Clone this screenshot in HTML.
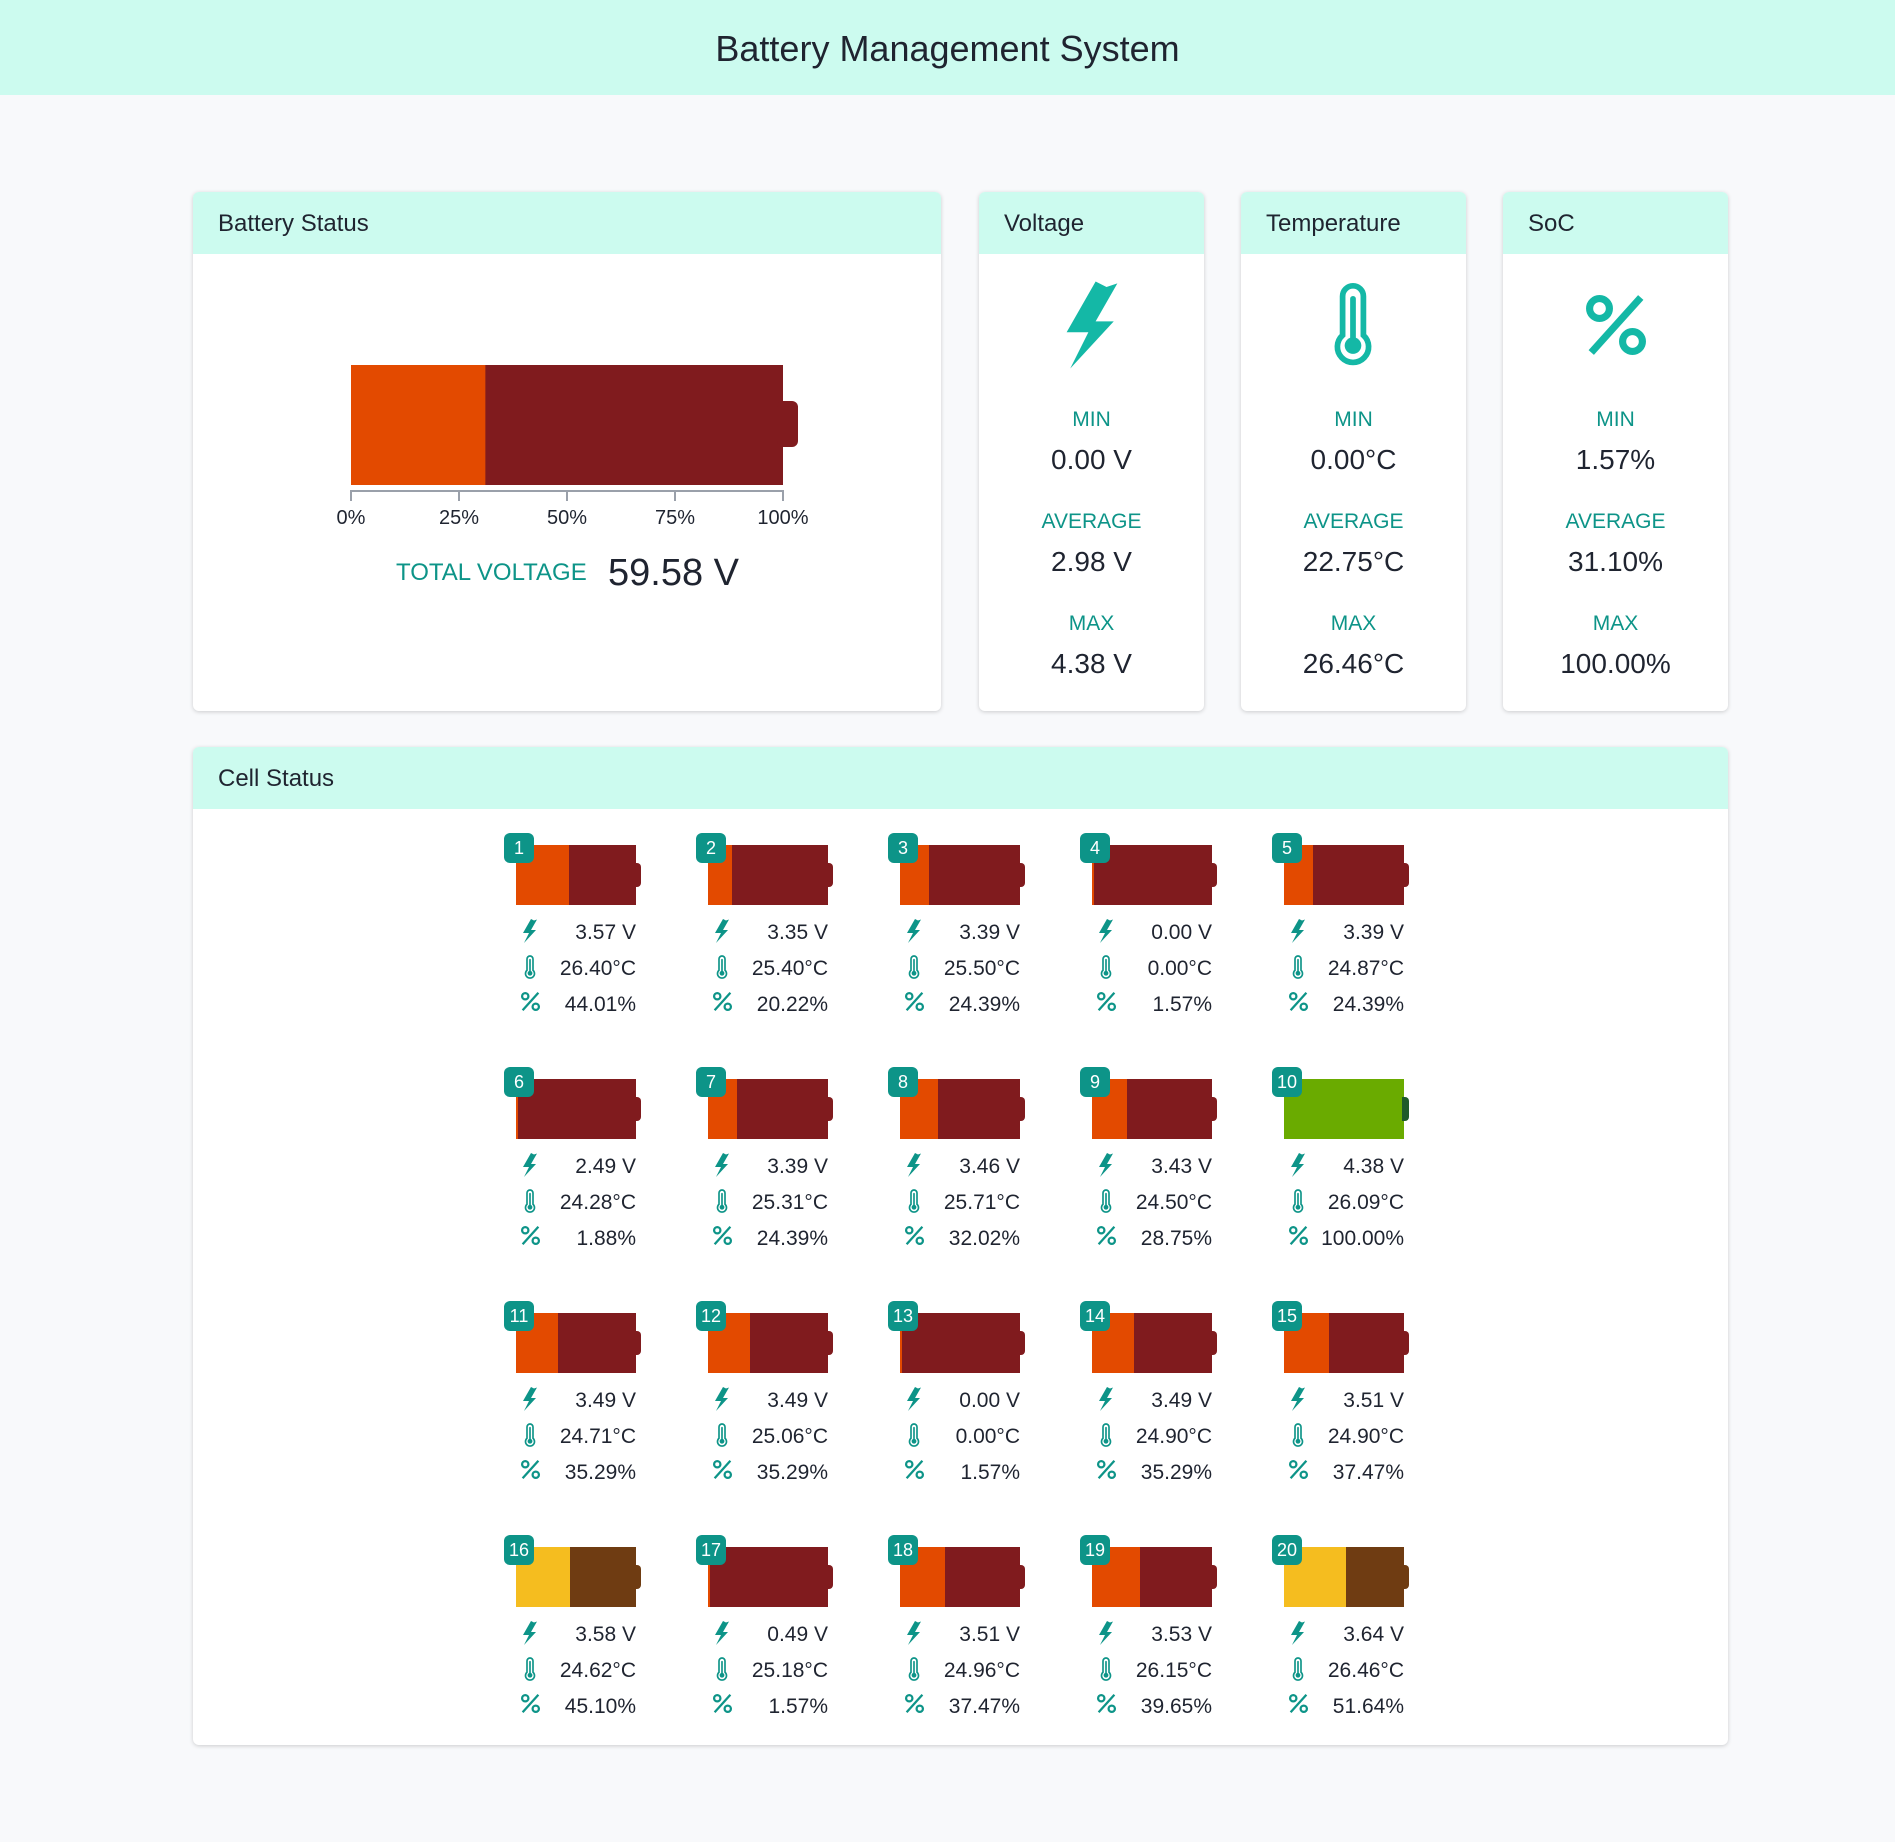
<!DOCTYPE html>
<html><head><meta charset="utf-8">
<style>
body{margin:0;width:1895px;height:1842px;background:#f8f9fb;font-family:"Liberation Sans",sans-serif;position:relative;overflow:hidden;color:#1f2430}
.abs{position:absolute}
.hdr{left:0;top:0;width:1895px;height:95px;background:#ccfbef;text-align:center;line-height:98px;font-size:36px;color:#1f2430}
.card{background:#fff;border-radius:6px;box-shadow:0 1px 4px rgba(0,0,0,.18);overflow:hidden}
.ch{position:absolute;left:0;top:0;right:0;height:62px;background:#ccfbef;font-size:24px;line-height:64px;padding-left:25px}
.lbl{color:#0d9488;font-size:21px;text-align:center;width:100%;position:absolute;left:0}
.val{font-size:28px;text-align:center;width:100%;position:absolute;left:0}
.cv{font-size:21px;text-align:right;width:110px}
</style></head><body>
<div class="abs hdr">Battery Management System</div>

<div class="abs card" style="left:193px;top:192px;width:748px;height:519px">
 <div class="ch">Battery Status</div>
 <svg id="pack" class="abs" style="left:0;top:0" width="748" height="519"></svg>
 <div class="abs" style="left:203px;top:367px;font-size:24px;color:#0d9488">TOTAL VOLTAGE</div>
 <div class="abs" style="left:415px;top:360px;font-size:38px">59.58 V</div>
</div>

<div id="stats"></div>

<div class="abs card" style="left:193px;top:747px;width:1535px;height:998px">
 <div class="ch">Cell Status</div>
 <div id="cells"></div>
</div>

<script>
const packSoc = 31.10;
const packTicks = ["0%","25%","50%","75%","100%"];
const tickVals = [0,25,50,75,100];
const statTitles = ["Voltage","Temperature","SoC"];
const statMin = ["0.00 V","0.00°C","1.57%"];
const statAvg = ["2.98 V","22.75°C","31.10%"];
const statMax = ["4.38 V","26.46°C","100.00%"];
const cellVolts = [3.57,3.35,3.39,0.00,3.39,2.49,3.39,3.46,3.43,4.38,3.49,3.49,0.00,3.49,3.51,3.58,0.49,3.51,3.53,3.64];
const cellTemps = [26.40,25.40,25.50,0.00,24.87,24.28,25.31,25.71,24.50,26.09,24.71,25.06,0.00,24.90,24.90,24.62,25.18,24.96,26.15,26.46];
const cellSocs = [44.01,20.22,24.39,1.57,24.39,1.88,24.39,32.02,28.75,100.00,35.29,35.29,1.57,35.29,37.47,45.10,1.57,37.47,39.65,51.64];

const NS="http://www.w3.org/2000/svg";
function mk(tag,attrs,parent){const e=document.createElementNS(NS,tag);for(const k in attrs)e.setAttribute(k,attrs[k]);parent.appendChild(e);return e;}
function colors(s){if(s>=100)return["#6aab00","#6aab00","#1e5b2a"];if(s>=45)return["#f5bd1f","#6f3c12","#6f3c12"];return["#e34a00","#801b1e","#801b1e"];}
const BOLT="9,0 12,1.5 15,0.5 9,11 14,11 2,24 7,14 1,14";
const PCT=c=>`<circle cx="6" cy="6" r="3.6" fill="none" stroke="${c}" stroke-width="2.6"/><circle cx="18" cy="18" r="3.6" fill="none" stroke="${c}" stroke-width="2.6"/><line x1="3" y1="22" x2="21" y2="2" stroke="${c}" stroke-width="2.6"/>`;
function thermo(g,x,y,s,col){
 mk('path',{d:`M${x-4*s} ${y+7*s} V${y-8*s} a${4*s} ${4*s} 0 0 1 ${8*s} 0 V${y+7*s} a${6*s} ${6*s} 0 1 1 ${-8*s} 0Z`,fill:'none',stroke:col,'stroke-width':2.2*s},g);
 mk('line',{x1:x,y1:y-7*s,x2:x,y2:y+8*s,stroke:col,'stroke-width':2.2*s,'stroke-linecap':'round'},g);
 mk('circle',{cx:x,cy:y+11*s,r:3.2*s,fill:col},g);
}

const pack=document.getElementById('pack');
const bx=158,bw=432,by=173,bh=120;
const xs=v=>bx+v/100*bw;
const pc=colors(packSoc);
let r=mk('rect',{x:bx,y:by,width:bw,height:bh,fill:pc[1]},pack);

r=mk('rect',{x:bx,y:by,width:xs(packSoc)-bx,height:bh,fill:pc[0]},pack);

r=mk('rect',{x:bx+bw-6,y:by+36,width:21,height:46,rx:6,fill:pc[2]},pack);

mk('line',{x1:bx,y1:299,x2:bx+bw,y2:299,stroke:'#9aa0aa','stroke-width':2},pack);
tickVals.forEach((v,i)=>{
 mk('line',{x1:xs(v),y1:298,x2:xs(v),y2:309,stroke:'#9aa0aa','stroke-width':2},pack);
 const t=mk('text',{x:xs(v),y:332,'text-anchor':'middle','font-size':20,fill:'#1f2430','font-family':'Liberation Sans'},pack);
 t.textContent=packTicks[i];
 
});

const stats=document.getElementById('stats');
const lefts=[979,1241,1503];
statTitles.forEach((tt,i)=>{
 const c=document.createElement('div');c.className='abs card';
 c.style.cssText=`left:${lefts[i]}px;top:192px;width:225px;height:519px`;
 
 
 let icon='';
 if(i===0)icon=`<svg class="abs" style="left:84px;top:88px" width="58" height="90" viewBox="0 0 16 24"><polygon points="${BOLT}" fill="#14b8a6"/></svg>`;
 if(i===1)icon=`<svg id="th" class="abs" style="left:72px;top:85px" width="80" height="90"></svg>`;
 if(i===2)icon=`<svg class="abs" style="left:80px;top:100px" width="66" height="66" viewBox="0 0 24 24">${PCT('#14b8a6')}</svg>`;
 c.innerHTML=`<div class="ch">${tt}</div>${icon}
 <div class="lbl" style="top:216px">MIN</div><div class="val" style="top:252px">${statMin[i]}</div>
 <div class="lbl" style="top:318px">AVERAGE</div><div class="val" style="top:354px">${statAvg[i]}</div>
 <div class="lbl" style="top:420px">MAX</div><div class="val" style="top:456px">${statMax[i]}</div>`;
 stats.appendChild(c);
});
thermo(document.getElementById('th'),40,40,2.6,'#14b8a6');

const cells=document.getElementById('cells');
cellSocs.forEach((s,i)=>{
 const col=i%5,row=Math.floor(i/5);
 const x=323+col*192, y=98+row*234;
 const g=document.createElement('div');g.className='abs';
 g.style.cssText=`left:${x}px;top:${y}px;width:140px;height:200px`;
 
 
 const c=colors(s);
 g.innerHTML=`<div class="abs" style="left:0;top:0;width:120px;height:60px;background:${c[1]}"></div>
 <div class="abs" style="left:0;top:0;width:${s/100*120}px;height:60px;background:${c[0]}"></div>
 <div class="abs" style="left:118px;top:18px;width:7px;height:24px;border-radius:0 4px 4px 0;background:${c[2]}"></div>
 <div class="abs" style="left:-12px;top:-12px;width:30px;height:30px;border-radius:6px;background:#0d9488;color:#fff;font-size:18px;text-align:center;line-height:30px">${i+1}</div>
 <svg class="abs" style="left:6px;top:72px" width="16" height="28" viewBox="0 0 16 24"><polygon points="${BOLT}" fill="#0d9488"/></svg>
 <svg class="abs thm" style="left:2px;top:108px" width="24" height="28"></svg>
 <svg class="abs" style="left:4px;top:146px" width="21" height="21" viewBox="0 0 24 24">${PCT('#0d9488')}</svg>
 <div class="abs cv" style="left:10px;top:76px">${cellVolts[i].toFixed(2)} V</div>
 <div class="abs cv" style="left:10px;top:112px">${cellTemps[i].toFixed(2)}°C</div>
 <div class="abs cv" style="left:10px;top:148px">${s.toFixed(2)}%</div>`;
 cells.appendChild(g);
 thermo(g.querySelector('.thm'),12,12,0.75,'#0d9488');
});
</script>
</body></html>
